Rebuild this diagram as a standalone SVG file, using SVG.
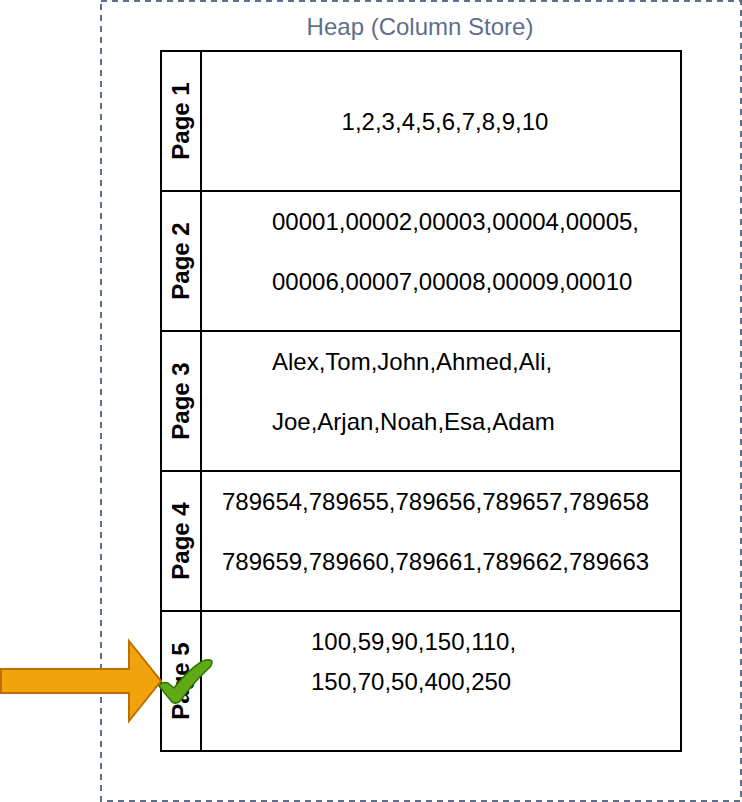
<svg xmlns="http://www.w3.org/2000/svg" width="742" height="802" viewBox="0 0 742 802">
<style>
.t{font-family:"Liberation Sans",Arial,sans-serif;font-size:24px;fill:#000}
.h{font-family:"Liberation Sans",Arial,sans-serif;font-size:24px;font-weight:bold;fill:#000}
.cell{fill:#fff;stroke:#000;stroke-width:2}
</style>
<rect width="742" height="802" fill="#fff"/>
<g id="heap">
<rect x="101" y="1" width="640" height="800" fill="none" stroke="#5f6e8a" stroke-width="2" stroke-dasharray="6 5"/>
<text x="420" y="35" text-anchor="middle" font-family="Liberation Sans, Arial, sans-serif" font-size="24" fill="#5f6e8a">Heap (Column Store)</text>
</g>
<g id="page1">
<rect class="cell" x="161" y="51" width="40" height="140"/>
<rect class="cell" x="201" y="51" width="480" height="140"/>
<text class="h" transform="translate(189,121) rotate(-90)" text-anchor="middle">Page 1</text>
<text class="t" x="445" y="130" text-anchor="middle">1,2,3,4,5,6,7,8,9,10</text>
</g>
<g id="page2">
<rect class="cell" x="161" y="191" width="40" height="140"/>
<rect class="cell" x="201" y="191" width="480" height="140"/>
<text class="h" transform="translate(189,261) rotate(-90)" text-anchor="middle">Page 2</text>
<text class="t" x="272" y="230">00001,00002,00003,00004,00005,</text>
<text class="t" x="272" y="290">00006,00007,00008,00009,00010</text>
</g>
<g id="page3">
<rect class="cell" x="161" y="331" width="40" height="140"/>
<rect class="cell" x="201" y="331" width="480" height="140"/>
<text class="h" transform="translate(189,401) rotate(-90)" text-anchor="middle">Page 3</text>
<text class="t" x="272" y="370">Alex,Tom,John,Ahmed,Ali,</text>
<text class="t" x="272" y="430">Joe,Arjan,Noah,Esa,Adam</text>
</g>
<g id="page4">
<rect class="cell" x="161" y="471" width="40" height="140"/>
<rect class="cell" x="201" y="471" width="480" height="140"/>
<text class="h" transform="translate(189,541) rotate(-90)" text-anchor="middle">Page 4</text>
<text class="t" x="222" y="510">789654,789655,789656,789657,789658</text>
<text class="t" x="222" y="570">789659,789660,789661,789662,789663</text>
</g>
<g id="page5">
<rect class="cell" x="161" y="611" width="40" height="140"/>
<rect class="cell" x="201" y="611" width="480" height="140"/>
<text class="h" transform="translate(189,681) rotate(-90)" text-anchor="middle">Page 5</text>
<text class="t" x="311" y="650">100,59,90,150,110,</text>
<text class="t" x="311" y="690">150,70,50,400,250</text>
</g>
<g id="connectors">
<path id="arrow" d="M1,669 H129 V641 L161,681 L129,721 V693 H1 Z" fill="#f0a30a" stroke="#bd7000" stroke-width="2" stroke-linejoin="miter"/>
</g>
<g id="check">
<path d="M159,686 Q162,681 168,683 L174,688 Q187,671 201,662 Q208,658 212,661 Q212,666 208,669 Q193,683 181,700 Q177,705 172,702 Z" fill="#60a917" stroke="#2d7600" stroke-width="1.5" stroke-linejoin="round"/>
</g>
</svg>
